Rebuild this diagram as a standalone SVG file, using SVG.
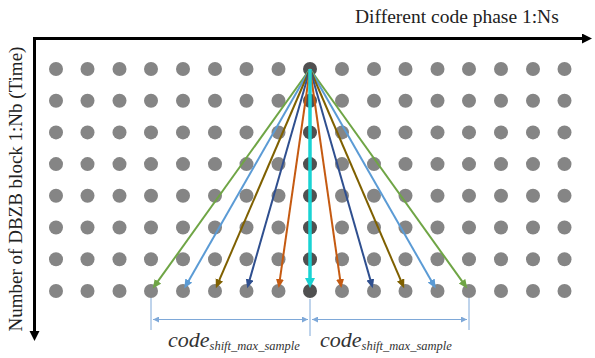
<svg xmlns="http://www.w3.org/2000/svg" width="595" height="358" viewBox="0 0 595 358">
<style>
.dot{fill:#858585}
.dotc{fill:#505050}
.ax{stroke:#000;stroke-width:3;fill:none}
.ar{fill:none;stroke-width:2}
.dim{stroke:#7ea8d8;stroke-width:1;fill:none}
.t{font-family:"Liberation Serif","Times New Roman",serif;fill:#222}
.lab{font-family:"Liberation Serif","Times New Roman",serif;font-style:italic;fill:#333}
</style>
<defs>
<marker id="mAx" markerUnits="userSpaceOnUse" markerWidth="12" markerHeight="12" refX="2" refY="5" orient="auto"><path d="M0,0 L10,5 L0,10 z" fill="#000"/></marker>
<marker id="mG" markerUnits="userSpaceOnUse" markerWidth="10" markerHeight="9" refX="3" refY="4" orient="auto"><path d="M0,0 L9,4 L0,8 z" fill="#6fa545"/></marker>
<marker id="mL" markerUnits="userSpaceOnUse" markerWidth="10" markerHeight="9" refX="3" refY="4" orient="auto"><path d="M0,0 L9,4 L0,8 z" fill="#5b9bd5"/></marker>
<marker id="mB" markerUnits="userSpaceOnUse" markerWidth="10" markerHeight="9" refX="3" refY="4" orient="auto"><path d="M0,0 L9,4 L0,8 z" fill="#7f6000"/></marker>
<marker id="mD" markerUnits="userSpaceOnUse" markerWidth="10" markerHeight="9" refX="3" refY="4" orient="auto"><path d="M0,0 L9,4 L0,8 z" fill="#2f4f8f"/></marker>
<marker id="mO" markerUnits="userSpaceOnUse" markerWidth="10" markerHeight="9" refX="3" refY="4" orient="auto"><path d="M0,0 L9,4 L0,8 z" fill="#c55a11"/></marker>
<marker id="mC" markerUnits="userSpaceOnUse" markerWidth="12" markerHeight="11" refX="3" refY="5" orient="auto"><path d="M0,0 L10,5 L0,10 z" fill="#19d3d3"/></marker>
<marker id="mDim" markerUnits="userSpaceOnUse" markerWidth="7" markerHeight="6" refX="6" refY="3" orient="auto-start-reverse"><path d="M0,0 L6,3 L0,6 z" fill="#7ea8d8"/></marker>
</defs>

<g id="axes">
<line class="ax" x1="33" y1="38.5" x2="584" y2="38.5" marker-end="url(#mAx)"/>
<line class="ax" x1="34.5" y1="37" x2="34.5" y2="333" marker-end="url(#mAx)"/>
</g>
<text class="t" x="355" y="23" font-size="19.5">Different code phase 1:Ns</text>
<text class="t" font-size="19" text-anchor="middle" transform="translate(22,189) rotate(-90)">Number of DBZB block 1:Nb (Time)</text>

<g id="grid">
<g id="r1"><circle class="dot" cx="56" cy="69" r="7"/><circle class="dot" cx="87.5" cy="69" r="7"/><circle class="dot" cx="119.5" cy="69" r="7"/><circle class="dot" cx="151" cy="69" r="7"/><circle class="dot" cx="183" cy="69" r="7"/><circle class="dot" cx="215" cy="69" r="7"/><circle class="dot" cx="246.5" cy="69" r="7"/><circle class="dot" cx="278.5" cy="69" r="7"/><circle class="dotc" cx="310" cy="69" r="7"/><circle class="dot" cx="342" cy="69" r="7"/><circle class="dot" cx="374" cy="69" r="7"/><circle class="dot" cx="405.5" cy="69" r="7"/><circle class="dot" cx="437.5" cy="69" r="7"/><circle class="dot" cx="469" cy="69" r="7"/><circle class="dot" cx="501" cy="69" r="7"/><circle class="dot" cx="533" cy="69" r="7"/><circle class="dot" cx="564.5" cy="69" r="7"/></g>
<g id="r2"><circle class="dot" cx="56" cy="100.7" r="7"/><circle class="dot" cx="87.5" cy="100.7" r="7"/><circle class="dot" cx="119.5" cy="100.7" r="7"/><circle class="dot" cx="151" cy="100.7" r="7"/><circle class="dot" cx="183" cy="100.7" r="7"/><circle class="dot" cx="215" cy="100.7" r="7"/><circle class="dot" cx="246.5" cy="100.7" r="7"/><circle class="dot" cx="278.5" cy="100.7" r="7"/><circle class="dotc" cx="310" cy="100.7" r="7"/><circle class="dot" cx="342" cy="100.7" r="7"/><circle class="dot" cx="374" cy="100.7" r="7"/><circle class="dot" cx="405.5" cy="100.7" r="7"/><circle class="dot" cx="437.5" cy="100.7" r="7"/><circle class="dot" cx="469" cy="100.7" r="7"/><circle class="dot" cx="501" cy="100.7" r="7"/><circle class="dot" cx="533" cy="100.7" r="7"/><circle class="dot" cx="564.5" cy="100.7" r="7"/></g>
<g id="r3"><circle class="dot" cx="56" cy="132.4" r="7"/><circle class="dot" cx="87.5" cy="132.4" r="7"/><circle class="dot" cx="119.5" cy="132.4" r="7"/><circle class="dot" cx="151" cy="132.4" r="7"/><circle class="dot" cx="183" cy="132.4" r="7"/><circle class="dot" cx="215" cy="132.4" r="7"/><circle class="dot" cx="246.5" cy="132.4" r="7"/><circle class="dot" cx="278.5" cy="132.4" r="7"/><circle class="dotc" cx="310" cy="132.4" r="7"/><circle class="dot" cx="342" cy="132.4" r="7"/><circle class="dot" cx="374" cy="132.4" r="7"/><circle class="dot" cx="405.5" cy="132.4" r="7"/><circle class="dot" cx="437.5" cy="132.4" r="7"/><circle class="dot" cx="469" cy="132.4" r="7"/><circle class="dot" cx="501" cy="132.4" r="7"/><circle class="dot" cx="533" cy="132.4" r="7"/><circle class="dot" cx="564.5" cy="132.4" r="7"/></g>
<g id="r4"><circle class="dot" cx="56" cy="164.1" r="7"/><circle class="dot" cx="87.5" cy="164.1" r="7"/><circle class="dot" cx="119.5" cy="164.1" r="7"/><circle class="dot" cx="151" cy="164.1" r="7"/><circle class="dot" cx="183" cy="164.1" r="7"/><circle class="dot" cx="215" cy="164.1" r="7"/><circle class="dot" cx="246.5" cy="164.1" r="7"/><circle class="dot" cx="278.5" cy="164.1" r="7"/><circle class="dotc" cx="310" cy="164.1" r="7"/><circle class="dot" cx="342" cy="164.1" r="7"/><circle class="dot" cx="374" cy="164.1" r="7"/><circle class="dot" cx="405.5" cy="164.1" r="7"/><circle class="dot" cx="437.5" cy="164.1" r="7"/><circle class="dot" cx="469" cy="164.1" r="7"/><circle class="dot" cx="501" cy="164.1" r="7"/><circle class="dot" cx="533" cy="164.1" r="7"/><circle class="dot" cx="564.5" cy="164.1" r="7"/></g>
<g id="r5"><circle class="dot" cx="56" cy="195.8" r="7"/><circle class="dot" cx="87.5" cy="195.8" r="7"/><circle class="dot" cx="119.5" cy="195.8" r="7"/><circle class="dot" cx="151" cy="195.8" r="7"/><circle class="dot" cx="183" cy="195.8" r="7"/><circle class="dot" cx="215" cy="195.8" r="7"/><circle class="dot" cx="246.5" cy="195.8" r="7"/><circle class="dot" cx="278.5" cy="195.8" r="7"/><circle class="dotc" cx="310" cy="195.8" r="7"/><circle class="dot" cx="342" cy="195.8" r="7"/><circle class="dot" cx="374" cy="195.8" r="7"/><circle class="dot" cx="405.5" cy="195.8" r="7"/><circle class="dot" cx="437.5" cy="195.8" r="7"/><circle class="dot" cx="469" cy="195.8" r="7"/><circle class="dot" cx="501" cy="195.8" r="7"/><circle class="dot" cx="533" cy="195.8" r="7"/><circle class="dot" cx="564.5" cy="195.8" r="7"/></g>
<g id="r6"><circle class="dot" cx="56" cy="227.5" r="7"/><circle class="dot" cx="87.5" cy="227.5" r="7"/><circle class="dot" cx="119.5" cy="227.5" r="7"/><circle class="dot" cx="151" cy="227.5" r="7"/><circle class="dot" cx="183" cy="227.5" r="7"/><circle class="dot" cx="215" cy="227.5" r="7"/><circle class="dot" cx="246.5" cy="227.5" r="7"/><circle class="dot" cx="278.5" cy="227.5" r="7"/><circle class="dotc" cx="310" cy="227.5" r="7"/><circle class="dot" cx="342" cy="227.5" r="7"/><circle class="dot" cx="374" cy="227.5" r="7"/><circle class="dot" cx="405.5" cy="227.5" r="7"/><circle class="dot" cx="437.5" cy="227.5" r="7"/><circle class="dot" cx="469" cy="227.5" r="7"/><circle class="dot" cx="501" cy="227.5" r="7"/><circle class="dot" cx="533" cy="227.5" r="7"/><circle class="dot" cx="564.5" cy="227.5" r="7"/></g>
<g id="r7"><circle class="dot" cx="56" cy="259.2" r="7"/><circle class="dot" cx="87.5" cy="259.2" r="7"/><circle class="dot" cx="119.5" cy="259.2" r="7"/><circle class="dot" cx="151" cy="259.2" r="7"/><circle class="dot" cx="183" cy="259.2" r="7"/><circle class="dot" cx="215" cy="259.2" r="7"/><circle class="dot" cx="246.5" cy="259.2" r="7"/><circle class="dot" cx="278.5" cy="259.2" r="7"/><circle class="dotc" cx="310" cy="259.2" r="7"/><circle class="dot" cx="342" cy="259.2" r="7"/><circle class="dot" cx="374" cy="259.2" r="7"/><circle class="dot" cx="405.5" cy="259.2" r="7"/><circle class="dot" cx="437.5" cy="259.2" r="7"/><circle class="dot" cx="469" cy="259.2" r="7"/><circle class="dot" cx="501" cy="259.2" r="7"/><circle class="dot" cx="533" cy="259.2" r="7"/><circle class="dot" cx="564.5" cy="259.2" r="7"/></g>
<g id="r8"><circle class="dot" cx="56" cy="291" r="7"/><circle class="dot" cx="87.5" cy="291" r="7"/><circle class="dot" cx="119.5" cy="291" r="7"/><circle class="dot" cx="151" cy="291" r="7"/><circle class="dot" cx="183" cy="291" r="7"/><circle class="dot" cx="215" cy="291" r="7"/><circle class="dot" cx="246.5" cy="291" r="7"/><circle class="dot" cx="278.5" cy="291" r="7"/><circle class="dotc" cx="310" cy="291" r="7"/><circle class="dot" cx="342" cy="291" r="7"/><circle class="dot" cx="374" cy="291" r="7"/><circle class="dot" cx="405.5" cy="291" r="7"/><circle class="dot" cx="437.5" cy="291" r="7"/><circle class="dot" cx="469" cy="291" r="7"/><circle class="dot" cx="501" cy="291" r="7"/><circle class="dot" cx="533" cy="291" r="7"/><circle class="dot" cx="564.5" cy="291" r="7"/></g>
</g>

<g id="connectors">
<line class="ar" stroke="#6fa545" x1="310" y1="69" x2="156.2" y2="283.7" marker-end="url(#mG)"/>
<line class="ar" stroke="#6fa545" x1="310" y1="69" x2="463.8" y2="283.7" marker-end="url(#mG)"/>
<line class="ar" stroke="#5b9bd5" x1="310" y1="69" x2="187.3" y2="283.2" marker-end="url(#mL)"/>
<line class="ar" stroke="#5b9bd5" x1="310" y1="69" x2="432.7" y2="283.2" marker-end="url(#mL)"/>
<line class="ar" stroke="#7f6000" x1="310" y1="69" x2="218.2" y2="282.7" marker-end="url(#mB)"/>
<line class="ar" stroke="#7f6000" x1="310" y1="69" x2="401.8" y2="282.7" marker-end="url(#mB)"/>
<line class="ar" stroke="#2f4f8f" x1="310" y1="69" x2="248.9" y2="282.4" marker-end="url(#mD)"/>
<line class="ar" stroke="#2f4f8f" x1="310" y1="69" x2="371.1" y2="282.4" marker-end="url(#mD)"/>
<line class="ar" stroke="#c55a11" x1="310" y1="69" x2="279.5" y2="282.1" marker-end="url(#mO)"/>
<line class="ar" stroke="#c55a11" x1="310" y1="69" x2="340.5" y2="282.1" marker-end="url(#mO)"/>
<line stroke="#19d3d3" stroke-width="3.5" x1="310" y1="69" x2="310" y2="281" marker-end="url(#mC)"/>
</g>

<g id="dimension">
<line class="dim" x1="151" y1="298" x2="151" y2="330"/>
<line class="dim" x1="310" y1="299" x2="310" y2="336"/>
<line class="dim" x1="469" y1="298" x2="469" y2="330"/>
<line class="dim" x1="153" y1="319.5" x2="308" y2="319.5" marker-start="url(#mDim)" marker-end="url(#mDim)"/>
<line class="dim" x1="312" y1="319.5" x2="467" y2="319.5" marker-start="url(#mDim)" marker-end="url(#mDim)"/>
</g>
<text class="lab" x="168" y="347" font-size="22">code<tspan font-size="12.5" dy="3">shift_max_sample</tspan></text>
<text class="lab" x="320" y="347" font-size="22">code<tspan font-size="12.5" dy="3">shift_max_sample</tspan></text>
</svg>
